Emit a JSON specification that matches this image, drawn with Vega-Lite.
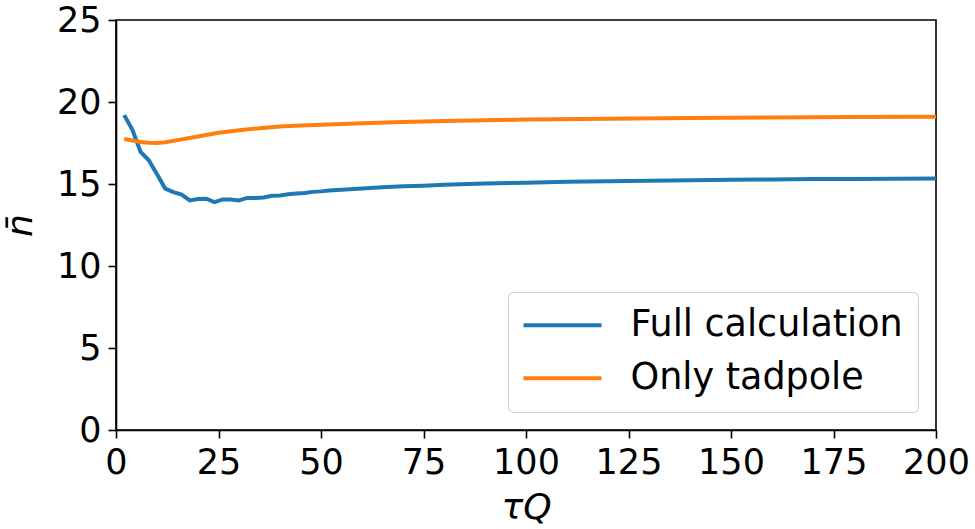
{
  "$schema": "https://vega.github.io/schema/vega-lite/v6.json",
  "width": 820,
  "height": 410,
  "autosize": "none",
  "padding": {"left": 116, "top": 20, "right": 39, "bottom": 99},
  "background": "white",
  "config": {
    "font": "DejaVu Sans",
    "view": {"stroke": "black", "strokeWidth": 1.6},
    "axis": {
      "grid": false,
      "domainColor": "black",
      "domainWidth": 1.6,
      "tickColor": "black",
      "tickWidth": 1.6,
      "tickSize": 8,
      "labelFont": "DejaVu Sans",
      "labelFontSize": 35,
      "labelColor": "black",
      "labelPadding": 7,
      "labelFlush": false,
      "labelOverlap": false,
      "titleFont": "DejaVu Sans",
      "titleFontSize": 36,
      "titleFontStyle": "italic",
      "titleFontWeight": "normal",
      "titleColor": "black"
    },
    "legend": {
      "orient": "bottom-right",
      "offset": 18,
      "symbolType": "M-1.82,0H6.18",
      "symbolSize": 380,
      "symbolStrokeWidth": 4,
      "labelFont": "DejaVu Sans",
      "labelFontSize": 36.5,
      "labelColor": "black",
      "labelLimit": 0,
      "labelOffset": 71,
      "rowPadding": 16,
      "padding": 15,
      "strokeColor": "#cccccc",
      "cornerRadius": 5,
      "fillColor": "rgba(255,255,255,0.8)"
    }
  },
  "data": {
    "values": [
      {"tauQ": 2, "n": 19.2, "series": "Full calculation"},
      {"tauQ": 4, "n": 18.3, "series": "Full calculation"},
      {"tauQ": 6, "n": 16.95, "series": "Full calculation"},
      {"tauQ": 8, "n": 16.45, "series": "Full calculation"},
      {"tauQ": 10, "n": 15.6, "series": "Full calculation"},
      {"tauQ": 12, "n": 14.72, "series": "Full calculation"},
      {"tauQ": 14, "n": 14.5, "series": "Full calculation"},
      {"tauQ": 16, "n": 14.35, "series": "Full calculation"},
      {"tauQ": 18, "n": 14.0, "series": "Full calculation"},
      {"tauQ": 20, "n": 14.08, "series": "Full calculation"},
      {"tauQ": 22, "n": 14.1, "series": "Full calculation"},
      {"tauQ": 24, "n": 13.9, "series": "Full calculation"},
      {"tauQ": 26, "n": 14.06, "series": "Full calculation"},
      {"tauQ": 28, "n": 14.05, "series": "Full calculation"},
      {"tauQ": 30, "n": 14.0, "series": "Full calculation"},
      {"tauQ": 32, "n": 14.15, "series": "Full calculation"},
      {"tauQ": 34, "n": 14.15, "series": "Full calculation"},
      {"tauQ": 36, "n": 14.18, "series": "Full calculation"},
      {"tauQ": 38, "n": 14.28, "series": "Full calculation"},
      {"tauQ": 40, "n": 14.3, "series": "Full calculation"},
      {"tauQ": 42, "n": 14.38, "series": "Full calculation"},
      {"tauQ": 44, "n": 14.42, "series": "Full calculation"},
      {"tauQ": 46, "n": 14.45, "series": "Full calculation"},
      {"tauQ": 48, "n": 14.52, "series": "Full calculation"},
      {"tauQ": 50, "n": 14.55, "series": "Full calculation"},
      {"tauQ": 52, "n": 14.6, "series": "Full calculation"},
      {"tauQ": 55, "n": 14.65, "series": "Full calculation"},
      {"tauQ": 60, "n": 14.72, "series": "Full calculation"},
      {"tauQ": 65, "n": 14.8, "series": "Full calculation"},
      {"tauQ": 70, "n": 14.86, "series": "Full calculation"},
      {"tauQ": 75, "n": 14.9, "series": "Full calculation"},
      {"tauQ": 80, "n": 14.95, "series": "Full calculation"},
      {"tauQ": 90, "n": 15.03, "series": "Full calculation"},
      {"tauQ": 100, "n": 15.08, "series": "Full calculation"},
      {"tauQ": 110, "n": 15.13, "series": "Full calculation"},
      {"tauQ": 120, "n": 15.17, "series": "Full calculation"},
      {"tauQ": 130, "n": 15.2, "series": "Full calculation"},
      {"tauQ": 140, "n": 15.23, "series": "Full calculation"},
      {"tauQ": 150, "n": 15.26, "series": "Full calculation"},
      {"tauQ": 160, "n": 15.28, "series": "Full calculation"},
      {"tauQ": 170, "n": 15.3, "series": "Full calculation"},
      {"tauQ": 180, "n": 15.31, "series": "Full calculation"},
      {"tauQ": 190, "n": 15.32, "series": "Full calculation"},
      {"tauQ": 200, "n": 15.33, "series": "Full calculation"},
      {"tauQ": 2, "n": 17.74, "series": "Only tadpole"},
      {"tauQ": 4, "n": 17.65, "series": "Only tadpole"},
      {"tauQ": 6, "n": 17.56, "series": "Only tadpole"},
      {"tauQ": 8, "n": 17.52, "series": "Only tadpole"},
      {"tauQ": 10, "n": 17.5, "series": "Only tadpole"},
      {"tauQ": 12, "n": 17.55, "series": "Only tadpole"},
      {"tauQ": 14, "n": 17.63, "series": "Only tadpole"},
      {"tauQ": 16, "n": 17.72, "series": "Only tadpole"},
      {"tauQ": 20, "n": 17.9, "series": "Only tadpole"},
      {"tauQ": 25, "n": 18.12, "series": "Only tadpole"},
      {"tauQ": 30, "n": 18.28, "series": "Only tadpole"},
      {"tauQ": 35, "n": 18.4, "series": "Only tadpole"},
      {"tauQ": 40, "n": 18.5, "series": "Only tadpole"},
      {"tauQ": 45, "n": 18.56, "series": "Only tadpole"},
      {"tauQ": 50, "n": 18.62, "series": "Only tadpole"},
      {"tauQ": 60, "n": 18.7, "series": "Only tadpole"},
      {"tauQ": 70, "n": 18.78, "series": "Only tadpole"},
      {"tauQ": 80, "n": 18.84, "series": "Only tadpole"},
      {"tauQ": 90, "n": 18.88, "series": "Only tadpole"},
      {"tauQ": 100, "n": 18.93, "series": "Only tadpole"},
      {"tauQ": 120, "n": 18.98, "series": "Only tadpole"},
      {"tauQ": 140, "n": 19.03, "series": "Only tadpole"},
      {"tauQ": 160, "n": 19.06, "series": "Only tadpole"},
      {"tauQ": 180, "n": 19.08, "series": "Only tadpole"},
      {"tauQ": 200, "n": 19.1, "series": "Only tadpole"}
    ]
  },
  "mark": {"type": "line", "strokeWidth": 4, "clip": true},
  "encoding": {
    "x": {
      "field": "tauQ",
      "type": "quantitative",
      "title": "τQ",
      "scale": {"domain": [0, 200], "nice": false, "zero": false},
      "axis": {"values": [0, 25, 50, 75, 100, 125, 150, 175, 200], "titlePadding": 10}
    },
    "y": {
      "field": "n",
      "type": "quantitative",
      "title": "n̄",
      "scale": {"domain": [0, 25], "nice": false},
      "axis": {"values": [0, 5, 10, 15, 20, 25], "titlePadding": 17}
    },
    "color": {
      "field": "series",
      "type": "nominal",
      "title": null,
      "scale": {"domain": ["Full calculation", "Only tadpole"], "range": ["#1f77b4", "#ff7f0e"]}
    }
  }
}
